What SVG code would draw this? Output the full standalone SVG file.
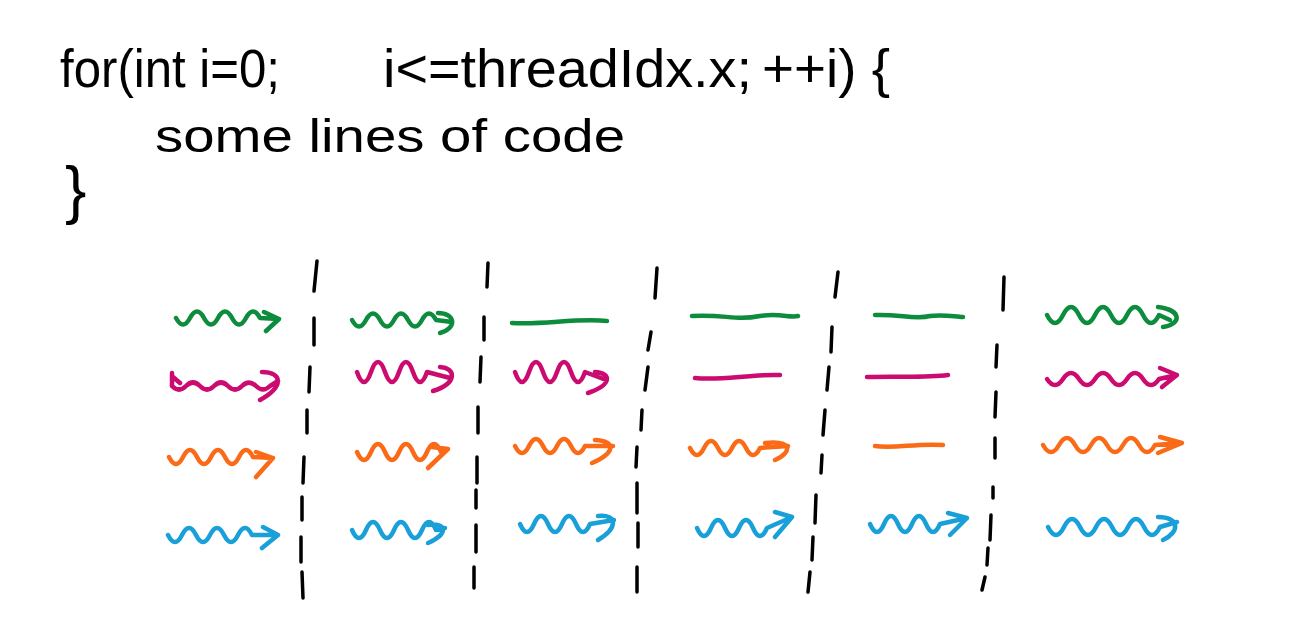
<svg xmlns="http://www.w3.org/2000/svg" width="1295" height="633" viewBox="0 0 1295 633">
<style>
.t{font-family:"Liberation Sans",Arial,sans-serif;fill:#000}
.d{fill:none;stroke:#000;stroke-width:3.5;stroke-linecap:round}
.s{fill:none;stroke-width:4.5;stroke-linecap:round;stroke-linejoin:round}
.g{stroke:#0c8c3c}
.m{stroke:#cc0b70}
.o{stroke:#fb6a16}
.b{stroke:#1aa0d8}
</style>
<rect width="1295" height="633" fill="#fff"/>
<g id="code">
<text class="t" x="60" y="87" font-size="54" textLength="220" lengthAdjust="spacingAndGlyphs">for(int i=0;</text>
<text class="t" x="383" y="87" font-size="54" textLength="369" lengthAdjust="spacingAndGlyphs">i&lt;=threadIdx.x;</text>
<text class="t" x="762" y="87" font-size="54" textLength="128" lengthAdjust="spacingAndGlyphs">++i) {</text>
<text class="t" x="155" y="152" font-size="46" textLength="470" lengthAdjust="spacingAndGlyphs">some lines of code</text>
<text class="t" x="65" y="212" font-size="64">}</text>
</g>
<g id="separators">
<path class="d" d="M317,261 L314,291 M314,318 L314,345 M310,367 L309,392 M307,410 L307,433 M304,457 L303,483 M302,497 L302,520 M301,537 L301,562 M302,572 L303,598"/>
<path class="d" d="M488,263 L487,287 M484,317 L484,340 M481,357 L480,382 M478,407 L478,433 M477,457 L477,483 M476,490 L476,508 M476,525 L476,552 M474,567 L474,588"/>
<path class="d" d="M657,268 L655,298 M651,332 L648,350 M648,367 L645,390 M642,410 L641,430 M637,447 L636,467 M637,483 L637,513 M638,523 L638,547 M637,567 L637,592"/>
<path class="d" d="M838,272 L835,297 M832,327 L831,352 M829,367 L827,390 M825,410 L823,435 M822,455 L821,473 M816,495 L815,523 M813,537 L812,560 M810,572 L808,592"/>
<path class="d" d="M1004,277 L1003,310 M997,345 L996,367 M996,392 L995,417 M995,438 L995,458 M993,487 L993,498 M991,515 L990,540 M988,548 L987,565 M985,577 L982,590"/>
</g>
<g id="col1">
<path class="s g" d="M176,318 q7,13 14,0 t14,0 t14,0 t14,0 t14,0 t14,0 L279,319 M264,312 L279,319 L266,331"/>
<path class="s m" d="M172,373 L172,386 M173,377 L180,383 M172,386 q7,7 14,0 t14,0 t14,0 t14,0 t14,0 t14,0 t14,0 L278,381 M262,372 C282,372 285,386 260,400"/>
<path class="s o" d="M169,457 q7,14 14,0 t14,0 t14,0 t14,0 t14,0 t14,0 L273,458 M256,452 L273,458 L256,477"/>
<path class="s b" d="M168,535 q7,14 14,0 t14,0 t14,0 t14,0 t14,0 t14,0 L278,535 M263,527 L278,535 L262,548"/>
</g>
<g id="col2">
<path class="s g" d="M352,320 q7,13 14,0 t14,0 t14,0 t14,0 t14,0 t14,0 L452,322 M438,313 C455,313 458,328 440,333"/>
<path class="s m" d="M357,372 q7,20 14,0 t14,0 t14,0 t14,0 t14,0 L450,378 M440,367 C456,368 458,383 433,391"/>
<path class="s o" d="M357,452 q7,16 14,0 t14,0 t14,0 t14,0 t14,0 t14,0 L448,449 M432,447 L448,449 L428,468"/>
<path class="s b" d="M352,530 q7,16 14,0 t14,0 t14,0 t14,0 t14,0 t14,0 L445,528 M428,525 C447,522 449,534 428,543"/>
</g>
<g id="col3">
<path class="s g" d="M512,323 C545,325 575,318 607,321"/>
<path class="s m" d="M515,372 q7,20 14,0 t14,0 t14,0 t14,0 t14,0 L606,380 M595,372 C612,373 612,385 588,393"/>
<path class="s o" d="M515,446 q7,14 14,0 t14,0 t14,0 t14,0 t14,0 L613,446 M595,440 C617,441 615,453 592,463"/>
<path class="s b" d="M520,524 q7,16 14,0 t14,0 t14,0 t14,0 t14,0 L614,520 M598,516 C618,514 618,528 598,540"/>
</g>
<g id="col4">
<path class="s g" d="M692,316 C725,314 735,321 760,316 C780,313 790,318 798,316"/>
<path class="s m" d="M695,378 C720,381 750,374 780,375"/>
<path class="s o" d="M690,448 q7,14 14,0 t14,0 t14,0 t14,0 t14,0 L788,446 M765,443 C792,440 793,452 775,460"/>
<path class="s b" d="M697,528 q7,16 14,0 t14,0 t14,0 t14,0 t14,0 L792,517 M775,512 L792,517 L775,537"/>
</g>
<g id="col5">
<path class="s g" d="M875,315 C900,314 915,320 930,316 C945,314 955,317 963,317"/>
<path class="s m" d="M867,377 C895,376 925,378 948,375"/>
<path class="s o" d="M875,446 C895,449 915,443 943,445"/>
<path class="s b" d="M870,524 q7,16 14,0 t14,0 t14,0 t14,0 t14,0 L967,518 M948,513 L967,518 L950,535"/>
</g>
<g id="col6">
<path class="s g" d="M1047,315 q8,16 16,0 t16,0 t16,0 t16,0 t16,0 t16,0 t16,0 L1170,320 M1158,307 C1182,310 1182,324 1163,327"/>
<path class="s m" d="M1047,379 q8,12 16,0 t16,0 t16,0 t16,0 t16,0 t16,0 t16,0 L1177,375 M1160,368 L1177,375 L1162,387"/>
<path class="s o" d="M1043,445 q8,14 16,0 t16,0 t16,0 t16,0 t16,0 t16,0 t16,0 L1182,443 M1160,437 L1182,443 L1158,453"/>
<path class="s b" d="M1048,527 q8,16 16,0 t16,0 t16,0 t16,0 t16,0 t16,0 t16,0 L1177,522 M1158,517 C1180,517 1180,532 1163,540"/>
</g>
</svg>
